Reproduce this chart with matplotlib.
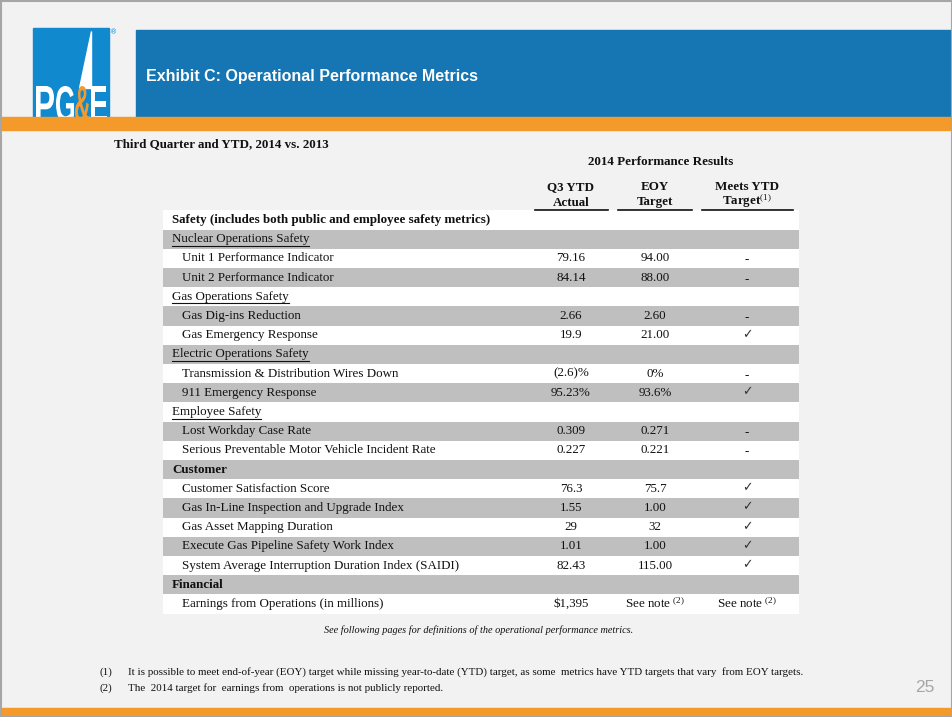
import matplotlib
matplotlib.use('Agg')
import matplotlib.pyplot as plt
from matplotlib.patches import Rectangle, Polygon, PathPatch
from matplotlib.textpath import TextPath
from matplotlib.font_manager import FontProperties
from matplotlib.transforms import Affine2D

plt.rcParams['mathtext.fontset'] = 'custom'
plt.rcParams['mathtext.rm'] = 'Liberation Serif'
plt.rcParams['mathtext.it'] = 'Liberation Serif:italic'
plt.rcParams['mathtext.bf'] = 'Liberation Serif:bold'

# table data
labels = ["Safety (includes both public and employee safety metrics)",
          "Nuclear Operations Safety",
          "Unit 1 Performance Indicator",
          "Unit 2 Performance Indicator",
          "Gas Operations Safety",
          "Gas Dig-ins Reduction",
          "Gas Emergency Response",
          "Electric Operations Safety",
          "Transmission & Distribution Wires Down",
          "911 Emergency Response",
          "Employee Safety",
          "Lost Workday Case Rate",
          "Serious Preventable Motor Vehicle Incident Rate",
          "Customer",
          "Customer Satisfaction Score",
          "Gas In-Line Inspection and Upgrade Index",
          "Gas Asset Mapping Duration",
          "Execute Gas Pipeline Safety Work Index",
          "System Average Interruption Duration Index (SAIDI)",
          "Financial",
          "Earnings from Operations (in millions)"]
kinds = ['S', 'G', 'I', 'I', 'G', 'I', 'I', 'G', 'I', 'I', 'G', 'I', 'I',
         'S', 'I', 'I', 'I', 'I', 'I', 'S', 'I']
actual = ["", "", "79.16", "84.14", "", "2.66", "19.9", "", "(2.6)%", "95.23%", "",
          "0.309", "0.227", "", "76.3", "1.55", "29", "1.01", "82.43", "", "$1,395"]
eoy = ["", "", "94.00", "88.00", "", "2.60", "21.00", "", "0%", "93.6%", "",
       "0.271", "0.221", "", "75.7", "1.00", "32", "1.00", "115.00", "", "See note $^{(2)}$"]
meets = ["", "", "-", "-", "", "-", "\u2713", "", "-", "\u2713", "",
         "-", "-", "", "\u2713", "\u2713", "\u2713", "\u2713", "\u2713", "", "See note $^{(2)}$"]

col_heads_top = ["Q3 YTD", "EOY", "Meets YTD"]
col_heads_bottom = ["Actual", "Target", "Target$^{(1)}$"]
footnotes = ["It is possible to meet end-of-year (EOY) target while missing year-to-date (YTD) target, "
             "as some  metrics have YTD targets that vary  from EOY targets.",
             "The  2014 target for  earnings from  operations is not publicly reported."]

blue = '#1576b3'
logo_blue = '#1089cf'
orange = '#f39a2b'
ink = '#111111'
serif = 'Liberation Serif'
fs = 9.4

fig = plt.figure(figsize=(9.53, 7.17), dpi=100)
fig.patch.set_facecolor('#f2f2f2')
ax = fig.add_axes([0, 0, 1, 1])
ax.set_xlim(0, 953)
ax.set_ylim(717, 0)
ax.axis('off')

# slide frame
ax.add_patch(Rectangle((0.5, 0.5), 952, 716, fill=False, ec='#a6a6a6', lw=1.5, zorder=5))

# header banner
ax.add_patch(Rectangle((136, 30), 817, 87, color=blue, zorder=1))
ax.text(146, 76, "Exhibit C: Operational Performance Metrics", color='white',
        fontsize=11.5, fontweight='bold', family='Liberation Sans', va='center')

# logo
ax.add_patch(Rectangle((33, 28), 76, 89, color=logo_blue, zorder=1))
ax.add_patch(Polygon([(91, 31), (91, 88), (79, 88)], color='white', zorder=2))
letters = [('P', 36, 54, 'white'), ('G', 56, 74, 'white'),
           ('&', 75, 90, orange), ('E', 91, 107, 'white')]
fp = FontProperties(family='Liberation Sans', weight='bold')
for ch, x0, x1, col in letters:
    tp = TextPath((0, 0), ch, size=1, prop=fp)
    bb = tp.get_extents()
    tr = (Affine2D().translate(-bb.x0, -bb.y0)
          .scale((x1 - x0) / bb.width, -36 / bb.height)
          .translate(x0, 122) + ax.transData)
    ax.add_patch(PathPatch(tp, transform=tr, color=col, lw=0, zorder=3))
ax.text(114, 32, "\u00ae", color=logo_blue, fontsize=5, ha='center', va='center')

# orange bars
ax.add_patch(Rectangle((0, 117), 953, 13, color=orange, zorder=4))
ax.add_patch(Rectangle((0, 708), 953, 9, color=orange, zorder=4))

# titles
ax.text(114, 144, "Third Quarter and YTD, 2014 vs. 2013", family=serif,
        fontweight='bold', fontsize=fs, color=ink, va='center')
ax.text(661, 162, "2014 Performance Results", family=serif, fontweight='bold',
        fontsize=fs, color=ink, va='center', ha='center')

col_x = [571, 655, 747]
col_lines = [(535, 608), (618, 692), (702, 793)]
for top, bottom, cx, (l0, l1) in zip(col_heads_top, col_heads_bottom, col_x, col_lines):
    ax.text(cx, 190, top, family=serif, fontweight='bold', fontsize=fs,
            color=ink, ha='center', va='baseline')
    ax.text(cx, 205.5, bottom, family=serif, fontweight='bold', fontsize=fs,
            color=ink, ha='center', va='baseline')
    ax.plot([l0, l1], [210, 210], color=ink, lw=1.2)

# table
y0, step = 220, 19.2
tx0, tx1 = 163, 799
fig.canvas.draw()
renderer = fig.canvas.get_renderer()
for i, (lab, kind) in enumerate(zip(labels, kinds)):
    y = y0 + i * step
    ax.add_patch(Rectangle((tx0, y - step / 2), tx1 - tx0, step,
                           color='white' if i % 2 == 0 else '#bfbfbf', lw=0, zorder=1))
    if kind == 'S':
        ax.text(172, y, lab, family=serif, fontweight='bold', fontsize=fs, color=ink,
                va='center', zorder=3)
    elif kind == 'G':
        t = ax.text(172, y, lab, family=serif, fontsize=fs, color=ink, va='center', zorder=3)
        bb = t.get_window_extent(renderer).transformed(ax.transData.inverted())
        ax.plot([bb.x0, bb.x1], [y + 6.5, y + 6.5], color=ink, lw=0.8, zorder=3)
    else:
        ax.text(182, y, lab, family=serif, fontsize=fs, color=ink, va='center', zorder=3)

    for val, cx in zip([actual[i], eoy[i], meets[i]], col_x):
        if not val:
            continue
        if val == '\u2713':
            ax.text(cx, y - 1, val, family='DejaVu Sans', fontsize=9, color='#333333',
                    ha='center', va='center', zorder=3)
        elif val == '-':
            ax.text(cx, y + 2, val, family=serif, fontsize=fs, color=ink,
                    ha='center', va='center', zorder=3)
        else:
            ax.text(cx, y, val.replace('$1', r'\$1'), family=serif, fontsize=fs,
                    color=ink, ha='center', va='center', zorder=3)

ax.text(479, 630, "See following pages for definitions of the operational performance metrics.",
        family=serif, style='italic', fontsize=7.4, color=ink, ha='center', va='center')

for k, note in enumerate(footnotes):
    fy = 672 + k * 16
    ax.text(100, fy, "(%d)" % (k + 1), family=serif, fontsize=7.9, color=ink, va='center')
    ax.text(128, fy, note, family=serif, fontsize=7.9, color=ink, va='center')

ax.text(925, 688, "25", family='Liberation Sans', fontsize=12.5, color='#a6a6a6',
        ha='center', va='center')

fig.savefig('out.png', dpi=100, facecolor=fig.get_facecolor())
